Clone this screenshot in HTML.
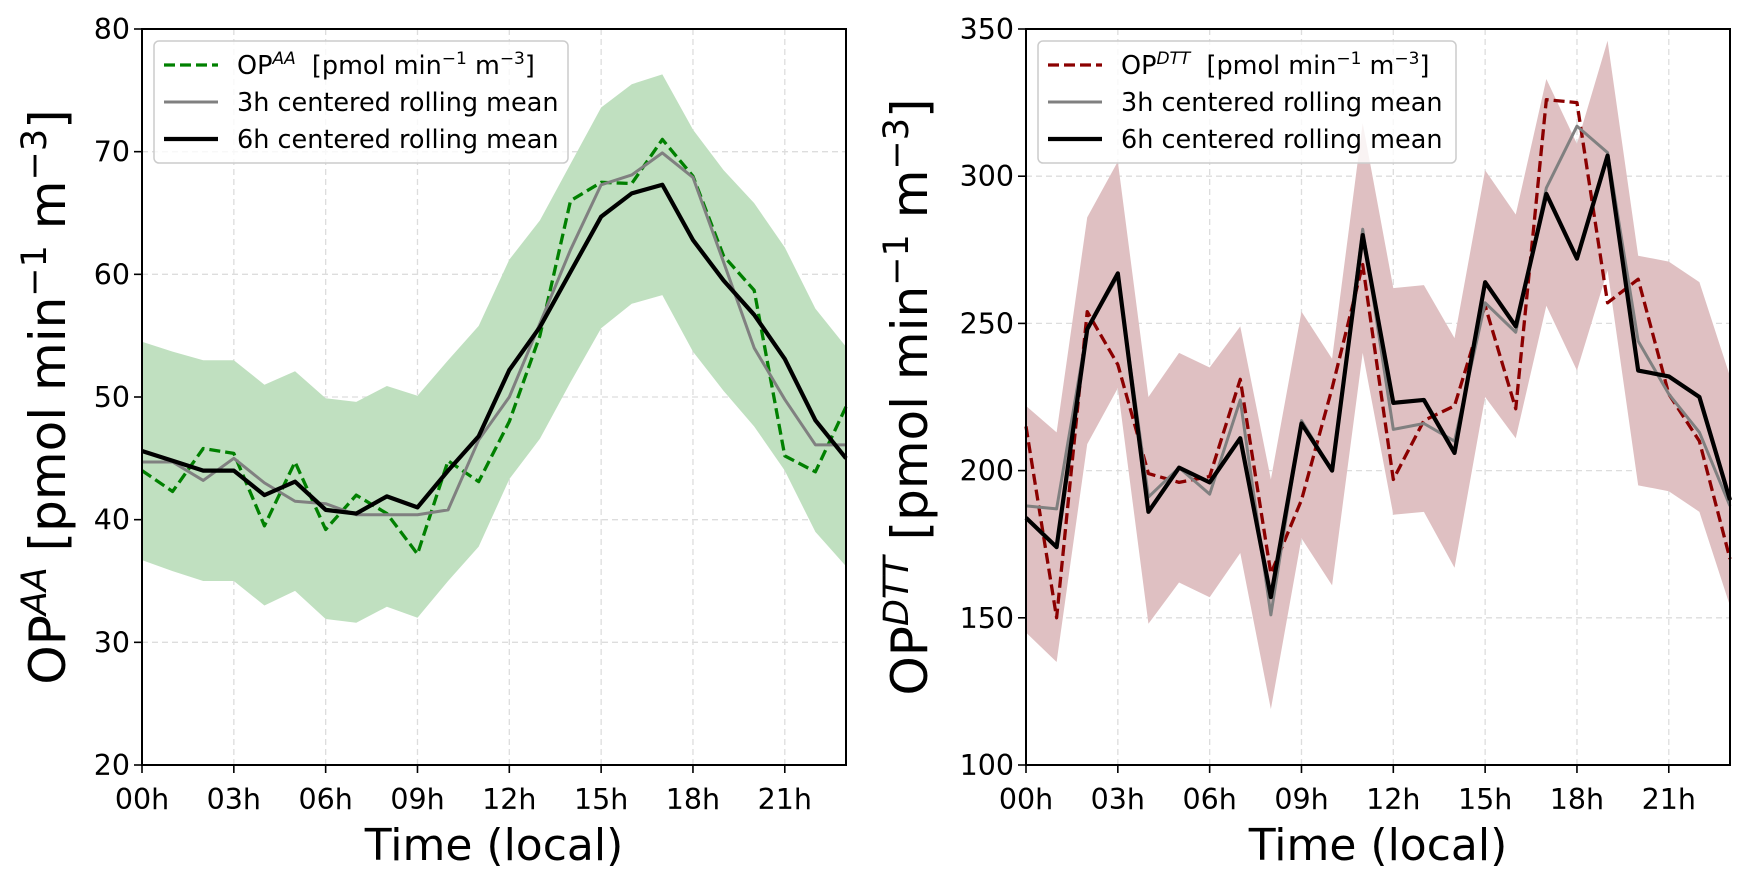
<!DOCTYPE html>
<html><head><meta charset="utf-8"><style>
body{margin:0;background:#fff;}
svg{display:block;font-family:"DejaVu Sans","Liberation Sans",sans-serif;}
</style></head><body>
<svg id="fig" width="1750" height="882" viewBox="0 0 1750 882" xmlns="http://www.w3.org/2000/svg"></svg>
<script>
const hours = [0,1,2,3,4,5,6,7,8,9,10,11,12,13,14,15,16,17,18,19,20,21,22,23];
const xTickHours = [0,3,6,9,12,15,18,21];
const xTickLabels = ["00h","03h","06h","09h","12h","15h","18h","21h"];

const aaTicks = [20,30,40,50,60,70,80];
const aaRaw = [44,42.3,45.8,45.4,39.5,44.7,39.2,42,40.5,37.2,44.8,43.1,48,55,66,67.5,67.4,71,68,61.5,58.7,45.2,43.9,49.2];
const aa3h = [44.7,44.7,43.2,45,43,41.5,41.3,40.4,40.4,40.4,40.8,46.5,50,56,62,67.3,68.1,69.9,67.9,61,54,49.8,46.1,46.1];
const aa6h = [45.6,44.8,44,44,42,43.1,40.8,40.5,41.9,41,44,46.8,52.2,55.7,60.2,64.7,66.6,67.3,62.8,59.5,56.7,53.1,48.1,45];
const aaUpper = [54.5,53.7,53,53,51,52.1,49.9,49.6,50.9,50.1,53,55.8,61.2,64.4,69,73.6,75.5,76.3,71.8,68.5,65.8,62.2,57.2,54.1];
const aaLower = [36.7,35.8,35,35,33,34.2,31.9,31.6,32.9,32,35,37.8,43.3,46.6,51.2,55.6,57.6,58.3,53.7,50.5,47.6,44,39,36.2];

const dttTicks = [100,150,200,250,300,350];
const dttRaw = [215,150,254,236,199,196,198,231,165,190,228,270,197,217,222,256,221,326,325,257,265,226,210,170];
const dtt3h = [188,187,248,266,191,201,192,224,151,217,200,282,214,216,210,257,247,296,317,308,244,226,213,188];
const dtt6h = [184,174,248,267,186,201,196,211,157,216,200,280,223,224,206,264,249,294,272,307,234,232,225,190];
const dttUpper = [222,213,286,305,225,240,235,249,197,254,238,318,262,263,245,302,287,333,311,346,273,271,264,232];
const dttLower = [145,135,209,228,148,162,157,172,119,177,161,240,185,186,167,225,211,256,234,268,195,193,186,154];

const NS="http://www.w3.org/2000/svg";
const svg=document.getElementById('fig');
function mk(tag,attrs,parent){const e=document.createElementNS(NS,tag);for(const k in attrs)e.setAttribute(k,attrs[k]);(parent||svg).appendChild(e);return e;}

function panel(opt){
  const L=opt.left,R=opt.right,T=29,B=765;
  const g=mk('g',{});
  
  
  const xs=h=>L+(h-0)/23*(R-L);
  const ys=v=>B-(v-opt.ymin)/(opt.ymax-opt.ymin)*(B-T);
  xTickHours.forEach(h=>{const l=mk('line',{x1:xs(h),x2:xs(h),y1:T,y2:B,stroke:'#dddddd','stroke-width':1.3,'stroke-dasharray':'6,4'},g);
    });
  opt.ticks.forEach(v=>{const l=mk('line',{x1:L,x2:R,y1:ys(v),y2:ys(v),stroke:'#dddddd','stroke-width':1.3,'stroke-dasharray':'6,4'},g);
    });
  let d='M'+hours.map((h,i)=>xs(h)+','+ys(opt.upper[i])).join('L');
  d+='L'+hours.slice().reverse().map((h)=>xs(h)+','+ys(opt.lower[h])).join('L')+'Z';
  const band=mk('path',{d:d,fill:opt.bandColor,stroke:'none'},g);
  
  const line=(arr,col,w,dash,name)=>{const p=mk('polyline',{points:hours.map((h,i)=>xs(h)+','+ys(arr[i])).join(' '),fill:'none',stroke:col,'stroke-width':w,'stroke-linejoin':'round'},g);
    if(dash)p.setAttribute('stroke-dasharray',dash);
    };
  line(opt.raw,opt.rawColor,3.3,'11,5','raw-series-line');
  line(opt.m3,'#808080',3,null,'rolling-mean-3h-line');
  line(opt.m6,'#000000',4.2,null,'rolling-mean-6h-line');
  const fr=mk('rect',{x:L,y:T,width:R-L,height:B-T,fill:'none',stroke:'#000','stroke-width':2},g);
  
  xTickHours.forEach((h,i)=>{mk('line',{x1:xs(h),x2:xs(h),y1:B,y2:B+8,stroke:'#000','stroke-width':1.6},g);
    const t=mk('text',{x:xs(h),y:B+44,'text-anchor':'middle','font-size':'28.5px',fill:'#000'},g);t.textContent=xTickLabels[i];
    });
  opt.ticks.forEach(v=>{mk('line',{x1:L-8,x2:L,y1:ys(v),y2:ys(v),stroke:'#000','stroke-width':1.6},g);
    const t=mk('text',{x:L-12,y:ys(v)+10,'text-anchor':'end','font-size':'28.5px',fill:'#000'},g);t.textContent=v;
    });
  const xt=mk('text',{x:(L+R)/2,y:860,'text-anchor':'middle','font-size':'44px',fill:'#000'},g);xt.textContent='Time (local)';
  
  const yt=mk('text',{x:0,y:0,'text-anchor':'middle','font-size':'50px',fill:'#000',transform:`translate(${opt.ylabelX},${(T+B)/2}) rotate(-90)`},g);
  yt.innerHTML=`OP<tspan font-style="italic" font-size="35px" dy="-19">${opt.sup}</tspan><tspan dy="19"> [pmol min</tspan><tspan font-size="35px" dy="-19">−1</tspan><tspan dy="19"> m</tspan><tspan font-size="35px" dy="-19">−3</tspan><tspan dy="19">]</tspan>`;
  
  const lx=L+12;
  const lg=mk('g',{},g);
  mk('rect',{x:lx,y:41,width:opt.legW,height:122,rx:5,fill:'rgba(255,255,255,0.8)',stroke:'#cccccc','stroke-width':1.5},lg);
  const rows=[[opt.rawColor,3.3,'11,5',null],['#808080',3,null,'3h centered rolling mean'],['#000',4.2,null,'6h centered rolling mean']];
  const ry=[65,102,139];
  rows.forEach((r,i)=>{const e=mk('g',{},lg);
    const ln=mk('line',{x1:lx+10,x2:lx+64,y1:ry[i],y2:ry[i],stroke:r[0],'stroke-width':r[1]},e);if(r[2])ln.setAttribute('stroke-dasharray',r[2]);
    const t=mk('text',{x:lx+83,y:ry[i]+9,'font-size':'25.5px',fill:'#000'},e);
    if(r[3])t.textContent=r[3];
    else t.innerHTML=`OP<tspan font-style="italic" font-size="17px" dy="-10">${opt.sup}</tspan><tspan dy="10" xml:space="preserve">  [pmol min</tspan><tspan font-size="17px" dy="-10">−1</tspan><tspan dy="10"> m</tspan><tspan font-size="17px" dy="-10">−3</tspan><tspan dy="10">]</tspan>`;
  });
}
panel({name:'op-aa-panel',left:142,right:846,ymin:20,ymax:80,ticks:aaTicks,raw:aaRaw,m3:aa3h,m6:aa6h,upper:aaUpper,lower:aaLower,
  rawColor:'#008000',bandColor:'#c0e0c0',sup:'AA',ylabelX:65,legW:414});
panel({name:'op-dtt-panel',left:1026,right:1730,ymin:100,ymax:350,ticks:dttTicks,raw:dttRaw,m3:dtt3h,m6:dtt6h,upper:dttUpper,lower:dttLower,
  rawColor:'#8b0000',bandColor:'#dfc0c2',sup:'DTT',ylabelX:927,legW:418});
</script>
</body></html>
